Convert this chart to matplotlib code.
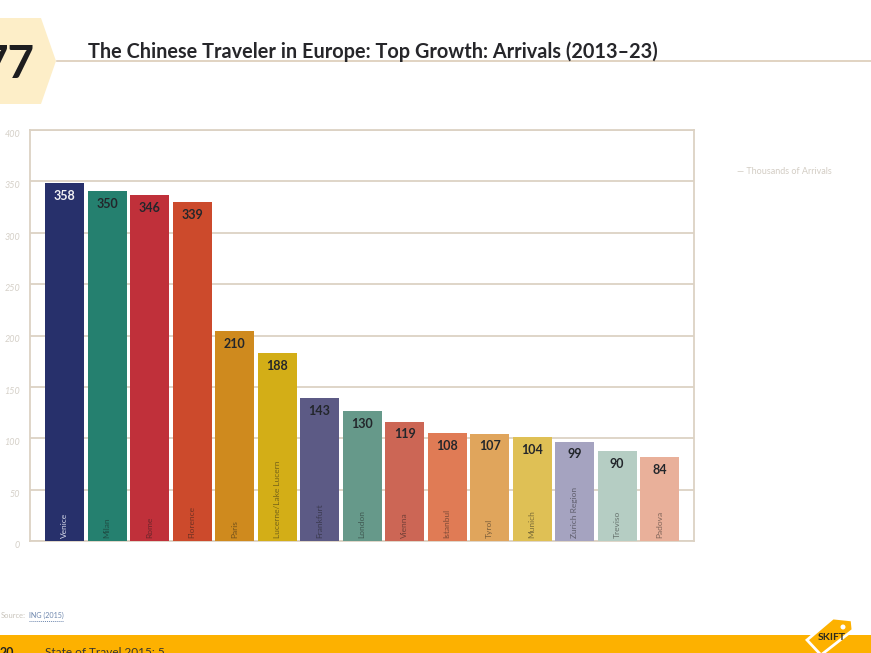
import numpy as np
import matplotlib
matplotlib.use("Agg")
import matplotlib.pyplot as plt
from matplotlib.patches import Polygon, Circle

# Data
cities = ["Venice", "Milan", "Rome", "Florence", "Paris", "Lucerne/Lake Lucern", "Frankfurt", "London",
          "Vienna", "Istanbul", "Tyrol", "Munich", "Zurich Region", "Treviso", "Padova"]
arrivals = [358, 350, 346, 339, 210, 188, 143, 130, 119, 108, 107, 104, 99, 90, 84]
bar_colors = ["#27306b", "#25806f", "#c0303a", "#cc4a2c", "#cf8a1e", "#d3ae17", "#5c5a85", "#66998a",
              "#cc6655", "#e07b55", "#e0a55c", "#dfc055", "#a5a3c0", "#b5cdc3", "#e9b09a"]
y_ticks = [0, 50, 100, 150, 200, 250, 300, 350, 400]

W, H = 871, 653
BEIGE = "#dcd2c4"
plt.rcParams["font.family"] = ["Lato", "DejaVu Sans"]

fig = plt.figure(figsize=(W / 100, H / 100), dpi=100, facecolor="white")

# page furniture, drawn in pixel coordinates
page = fig.add_axes([0, 0, 1, 1])
page.set_xlim(0, W)
page.set_ylim(H, 0)
page.axis("off")

page.add_patch(Polygon([(0, 18), (41, 18), (56, 61), (41, 104), (0, 104)], color="#fdeec8", lw=0))
page.text(35, 65, "77", fontsize=33, fontweight="bold", color="#1d1d1f", ha="right", va="center")
page.plot([57, W], [61, 61], color="#dcccb8", lw=1.2)
page.text(88, 52, "The Chinese Traveler in Europe: Top Growth: Arrivals (2013\u201323)", fontsize=14.3,
          fontweight="bold", color="#26262a", va="center")

page.text(737, 171, "\u2014 Thousands of Arrivals", fontsize=6.5, color="#d3cdc4", va="center")
page.text(1, 615.5, "Source:", fontsize=5.4, color="#c9c4bb", va="center")
page.text(29, 615.5, "ING (2015)", fontsize=5.1, color="#6d86ad", va="center")
page.plot([29, 63], [621, 621], color="#6d86ad", lw=0.7, ls=(0, (1, 1)))

page.add_patch(plt.Rectangle((0, 635), W, 18, color="#fdb100", lw=0))
page.text(0, 653, "20", fontsize=9, fontweight="bold", color="#222222", va="center")
page.text(45, 653, "State of Travel 2015: 5", fontsize=8.5, color="#333333", va="center")

page.add_patch(Polygon([(833, 618), (852, 620), (853, 630), (821, 655), (807, 640)], fc="#fdb100", ec="white", lw=2))
page.add_patch(Circle((843, 627), 2.5, color="white", lw=0))
page.text(832, 637.5, "SKIFT", fontsize=7.5, fontweight="bold", color="#2a2a20", ha="center", va="center")

# chart: one arrival is one pixel, the printed grid is a little stretched
ax = fig.add_axes([30 / W, 1 - 541 / H, 664 / W, 411 / H], facecolor="none")
scale = 411 / 400
x = np.arange(len(cities))
ax.bar(x, arrivals, width=0.918, color=bar_colors, zorder=3)
ax.set_xlim(-0.812, 14.81)
ax.set_ylim(0, 411)
ax.set_xticks([])
ax.set_yticks(np.array(y_ticks) * scale)
ax.set_yticklabels(y_ticks, fontsize=6.5, color="#d5d0c8", style="italic", va="top")
ax.tick_params(axis="y", length=0, pad=7)
ax.grid(axis="y", color=BEIGE, lw=1.3, zorder=0)
for spine in ax.spines.values():
    spine.set_color(BEIGE)
    spine.set_linewidth(1.3)

for i, (city, val) in enumerate(zip(cities, arrivals)):
    val_color = "#f2f2f5" if i == 0 else "#23262b"
    ax.annotate(str(val), (i, val), xytext=(0, -9), textcoords="offset points", ha="center", va="center",
                fontsize=9, fontweight="bold", color=val_color, zorder=4)
    name_color = "#d5d8e8" if i == 0 else (0.1, 0.1, 0.1, 0.5)
    ax.annotate(city, (i, 0), xytext=(0, 2), textcoords="offset points", ha="center", va="bottom",
                rotation=90, fontsize=6, color=name_color, zorder=4)

fig.savefig("out.png", dpi=100)
